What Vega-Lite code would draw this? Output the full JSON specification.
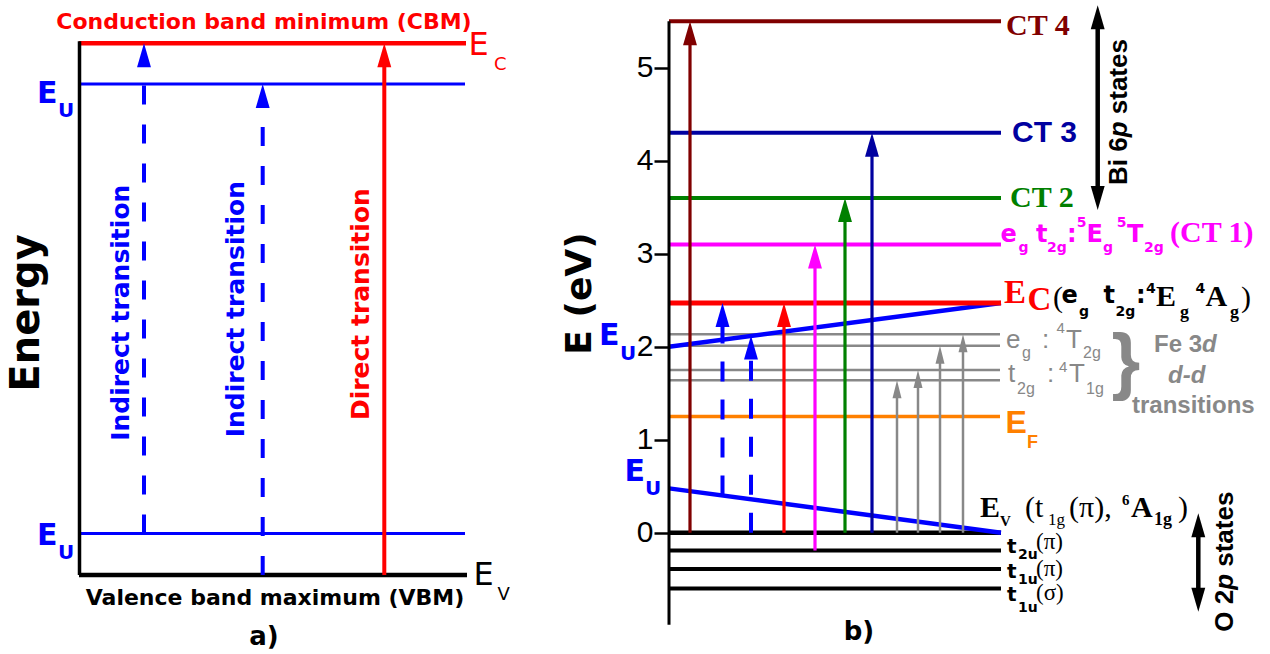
{
"$schema": "https://vega.github.io/schema/vega-lite/v6.json",
"width": 1270, "height": 654,
"autosize": {"type": "fit", "contains": "padding"},
"padding": 0,
"background": "white",
"config": {"view": {"stroke": null}},
"encoding": {
  "x": {"field": "x", "type": "quantitative", "scale": {"domain": [0, 1270], "nice": false, "zero": false}, "axis": null},
  "color": {"field": "c", "type": "nominal", "legend": null,
    "scale": {"domain": ["cbm", "eu", "ink", "ct4", "ct3", "ct2", "ct1", "dd", "ef"],
              "range": ["#ff0000", "#0000ff", "#000000", "#800000", "#0000a0", "#008000", "#ff00ff", "#888888", "#ff8000"]}}
},
"layer": [
{
  "encoding": {"y": {"field": "ea", "type": "quantitative", "scale": {"domain": [-0.743, 5.407], "nice": false, "zero": false}, "axis": null}},
  "layer": [
    {"data": {"values": [{"x": 79, "x2": 466, "ea": 5, "c": "cbm"}, {"x": 79, "x2": 467, "ea": 0, "c": "ink"}]},
     "mark": {"type": "rule", "strokeWidth": 4.5}, "encoding": {"x2": {"field": "x2"}}},
    {"data": {"values": [{"x": 79, "x2": 465, "ea": 4.617, "c": "eu"}, {"x": 79, "x2": 465, "ea": 0.39, "c": "eu"}]},
     "mark": {"type": "rule", "strokeWidth": 3}, "encoding": {"x2": {"field": "x2"}}},
    {"data": {"values": [{"x": 79.5, "ea": 0, "ea2": 5.02, "c": "ink"}]},
     "mark": {"type": "rule", "strokeWidth": 3.5}, "encoding": {"y2": {"field": "ea2"}}},
    {"data": {"values": [{"x": 384.3, "ea": 0, "ea2": 4.85, "c": "cbm"}]},
     "mark": {"type": "rule", "strokeWidth": 4}, "encoding": {"y2": {"field": "ea2"}}},
    {"data": {"values": [{"x": 144, "ea": 0.39, "ea2": 4.8, "c": "eu"}, {"x": 262.7, "ea": 0, "ea2": 4.45, "c": "eu"}]},
     "mark": {"type": "rule", "strokeWidth": 4, "strokeDash": [19, 20]}, "encoding": {"y2": {"field": "ea2"}}},
    {"data": {"values": [{"x": 144, "ea": 5, "c": "eu"}, {"x": 262.7, "ea": 4.617, "c": "eu"}, {"x": 384.3, "ea": 5, "c": "cbm"}]},
     "mark": {"type": "point", "shape": "M0,0L0.58,2L-0.58,2Z", "size": 576, "filled": true, "opacity": 1}},
    {"data": {"values": [{"x": 264, "ea": 5.132, "t": "Conduction band minimum (CBM)", "c": "cbm"}, {"x": 275, "ea": -0.282, "t": "Valence band maximum (VBM)", "c": "ink"}]},
     "mark": {"type": "text", "font": "DejaVu Sans", "fontWeight": "bold", "fontSize": 22, "align": "center", "baseline": "alphabetic"},
     "encoding": {"text": {"field": "t"}}},
    {"data": {"values": [{"x": 120.5, "ea": 2.466, "t": "Indirect transition", "c": "eu"}, {"x": 235.5, "ea": 2.5, "t": "Indirect transition", "c": "eu"}, {"x": 360.5, "ea": 2.547, "t": "Direct transition", "c": "cbm"}]},
     "mark": {"type": "text", "font": "DejaVu Sans", "fontWeight": "bold", "fontSize": 25, "angle": 270, "align": "center", "baseline": "middle"},
     "encoding": {"text": {"field": "t"}}},
    {"data": {"values": [{"x": 27, "ea": 2.464, "t": "Energy", "c": "ink"}]},
     "mark": {"type": "text", "font": "DejaVu Sans", "fontWeight": "bold", "fontSize": 40, "angle": 270, "align": "center", "baseline": "middle"},
     "encoding": {"text": {"field": "t"}}},
    {"data": {"values": [{"x": 264, "ea": -0.658, "t": "a)", "c": "ink"}]},
     "mark": {"type": "text", "font": "DejaVu Sans", "fontWeight": "bold", "fontSize": 26, "align": "center", "baseline": "alphabetic"},
     "encoding": {"text": {"field": "t"}}},
    {"data": {"values": [{"x": 468.5, "ea": 4.89, "t": "E", "c": "cbm"}, {"x": 473.5, "ea": -0.094, "t": "E", "c": "ink"}]},
     "mark": {"type": "text", "font": "DejaVu Sans", "fontSize": 32, "align": "left", "baseline": "alphabetic"},
     "encoding": {"text": {"field": "t"}}},
    {"data": {"values": [{"x": 494, "ea": 4.749, "t": "C", "c": "cbm"}, {"x": 497.5, "ea": -0.235, "t": "V", "c": "ink"}]},
     "mark": {"type": "text", "font": "DejaVu Sans", "fontSize": 18, "align": "left", "baseline": "alphabetic"},
     "encoding": {"text": {"field": "t"}}},
    {"data": {"values": [{"x": 37, "ea": 4.436, "t": "E", "c": "eu"}, {"x": 37, "ea": 0.282, "t": "E", "c": "eu"}]},
     "mark": {"type": "text", "font": "DejaVu Sans", "fontWeight": "bold", "fontSize": 30, "align": "left", "baseline": "alphabetic"},
     "encoding": {"text": {"field": "t"}}},
    {"data": {"values": [{"x": 58, "ea": 4.304, "t": "U", "c": "eu"}, {"x": 58, "ea": 0.148, "t": "U", "c": "eu"}]},
     "mark": {"type": "text", "font": "DejaVu Sans", "fontWeight": "bold", "fontSize": 20, "align": "left", "baseline": "alphabetic"},
     "encoding": {"text": {"field": "t"}}}
  ]
},
{
  "encoding": {"y": {"field": "ev", "type": "quantitative", "scale": {"domain": [-1.304, 5.728], "nice": false, "zero": false},
    "axis": {"orient": "left", "offset": -669, "values": [0, 1, 2, 3, 4, 5], "format": "d", "domain": false, "grid": false,
      "tickSize": 15, "tickWidth": 2.5, "tickColor": "#000000", "labelFont": "Liberation Sans", "labelFontSize": 30, "labelColor": "#000000",
      "labelPadding": 1, "labelFlush": false, "labelOverlap": false, "labelBound": false,
      "title": "E (eV)", "titleFont": "DejaVu Sans", "titleFontSize": 36, "titleFontWeight": "bold", "titleColor": "#000000",
      "titleAngle": 270, "titleX": -90, "titleY": 293, "titleAlign": "center", "titleBaseline": "middle"}}},
  "layer": [
    {"data": {"values": [{"x": 669, "x2": 1001, "ev": 5.5, "c": "ct4"}, {"x": 669, "x2": 1001, "ev": 4.3, "c": "ct3"}, {"x": 669, "x2": 1001, "ev": 3.6, "c": "ct2"}, {"x": 669, "x2": 1001, "ev": 3.1, "c": "ct1"},
                         {"x": 669, "x2": 1001, "ev": -0.19, "c": "ink"}, {"x": 669, "x2": 1001, "ev": -0.39, "c": "ink"}, {"x": 669, "x2": 1001, "ev": -0.6, "c": "ink"}]},
     "mark": {"type": "rule", "strokeWidth": 4}, "encoding": {"x2": {"field": "x2"}}},
    {"data": {"values": [{"x": 669, "x2": 1000, "ev": 2.135, "c": "dd"}, {"x": 669, "x2": 1000, "ev": 2.01, "c": "dd"}, {"x": 669, "x2": 1000, "ev": 1.75, "c": "dd"}, {"x": 669, "x2": 1000, "ev": 1.64, "c": "dd"}]},
     "mark": {"type": "rule", "strokeWidth": 2.5}, "encoding": {"x2": {"field": "x2"}}},
    {"data": {"values": [{"x": 669, "x2": 1000, "ev": 1.25, "c": "ef"}]},
     "mark": {"type": "rule", "strokeWidth": 3.5}, "encoding": {"x2": {"field": "x2"}}},
    {"data": {"values": [{"x": 669, "x2": 1001, "ev": 0, "c": "ink"}]},
     "mark": {"type": "rule", "strokeWidth": 4.5}, "encoding": {"x2": {"field": "x2"}}},
    {"data": {"values": [{"x": 669, "x2": 1001, "ev": 2.0, "ev2": 2.47, "c": "eu"}, {"x": 669, "x2": 1001, "ev": 0.477, "ev2": 0, "c": "eu"}]},
     "mark": {"type": "rule", "strokeWidth": 4.5}, "encoding": {"x2": {"field": "x2"}, "y2": {"field": "ev2"}}},
    {"data": {"values": [{"x": 669, "x2": 1001, "ev": 2.47, "c": "cbm"}]},
     "mark": {"type": "rule", "strokeWidth": 5}, "encoding": {"x2": {"field": "x2"}}},
    {"data": {"values": [{"x": 669, "ev": -0.99, "ev2": 5.5, "c": "ink"}]},
     "mark": {"type": "rule", "strokeWidth": 3}, "encoding": {"y2": {"field": "ev2"}}},
    {"data": {"values": [{"x": 690, "ev": 0, "ev2": 5.35, "c": "ct4"}, {"x": 784, "ev": 0, "ev2": 2.35, "c": "cbm"}, {"x": 815, "ev": -0.19, "ev2": 2.95, "c": "ct1"},
                         {"x": 845, "ev": 0, "ev2": 3.45, "c": "ct2"}, {"x": 872, "ev": 0, "ev2": 4.15, "c": "ct3"}]},
     "mark": {"type": "rule", "strokeWidth": 3.2}, "encoding": {"y2": {"field": "ev2"}}},
    {"data": {"values": [{"x": 722.5, "ev": 0.4, "ev2": 2.3, "c": "eu"}, {"x": 751, "ev": 0, "ev2": 1.95, "c": "eu"}]},
     "mark": {"type": "rule", "strokeWidth": 4, "strokeDash": [20, 18]}, "encoding": {"y2": {"field": "ev2"}}},
    {"data": {"values": [{"x": 897, "ev": 0, "ev2": 1.55, "c": "dd"}, {"x": 918, "ev": 0, "ev2": 1.66, "c": "dd"}, {"x": 940, "ev": 0, "ev2": 1.92, "c": "dd"}, {"x": 963, "ev": 0, "ev2": 2.04, "c": "dd"}]},
     "mark": {"type": "rule", "strokeWidth": 2.5}, "encoding": {"y2": {"field": "ev2"}}},
    {"data": {"values": [{"x": 1097.7, "ev": 3.6, "ev2": 5.55, "c": "ink"}, {"x": 1198.3, "ev": -0.7, "ev2": 0.1, "c": "ink"}]},
     "mark": {"type": "rule", "strokeWidth": 4.5}, "encoding": {"y2": {"field": "ev2"}}},
    {"data": {"values": [{"x": 690, "ev": 5.5, "c": "ct4"}, {"x": 722.5, "ev": 2.47, "c": "eu"}, {"x": 751, "ev": 2.12, "c": "eu"}, {"x": 784, "ev": 2.47, "c": "cbm"},
                         {"x": 815, "ev": 3.1, "c": "ct1"}, {"x": 845, "ev": 3.6, "c": "ct2"}, {"x": 872, "ev": 4.3, "c": "ct3"},
                         {"x": 1097.7, "ev": 5.672, "c": "ink"}, {"x": 1198.3, "ev": 0.209, "c": "ink"}]},
     "mark": {"type": "point", "shape": "M0,0L0.58,2L-0.58,2Z", "size": 576, "filled": true, "opacity": 1}},
    {"data": {"values": [{"x": 1097.7, "ev": 3.47, "c": "ink"}, {"x": 1198.3, "ev": -0.849, "c": "ink"}]},
     "mark": {"type": "point", "shape": "M0,0L0.58,-2L-0.58,-2Z", "size": 576, "filled": true, "opacity": 1}},
    {"data": {"values": [{"x": 897, "ev": 1.64, "c": "dd"}, {"x": 918, "ev": 1.75, "c": "dd"}, {"x": 940, "ev": 2.01, "c": "dd"}, {"x": 963, "ev": 2.135, "c": "dd"}]},
     "mark": {"type": "point", "shape": "M0,0L0.5,2L-0.5,2Z", "size": 324, "filled": true, "opacity": 1}},

    {"data": {"values": [{"x": 1006, "ev": 5.352, "t": "CT 4", "c": "ct4"}, {"x": 1010, "ev": 3.505, "t": "CT 2", "c": "ct2"}, {"x": 1170, "ev": 3.126, "t": "(CT 1)", "c": "ct1"},
                         {"x": 1156, "ev": 2.438, "t": "E", "c": "ink"}, {"x": 1205.5, "ev": 2.438, "t": "A", "c": "ink"},
                         {"x": 980, "ev": 0.172, "t": "E", "c": "ink"}, {"x": 1131, "ev": 0.172, "t": "A", "c": "ink"}]},
     "mark": {"type": "text", "font": "Liberation Serif", "fontWeight": "bold", "fontSize": 30, "align": "left", "baseline": "alphabetic"},
     "encoding": {"text": {"field": "t"}}},
    {"data": {"values": [{"x": 1012, "ev": 4.204, "t": "CT 3", "c": "ct3"}]},
     "mark": {"type": "text", "font": "Liberation Sans", "fontWeight": "bold", "fontSize": 30, "align": "left", "baseline": "alphabetic"},
     "encoding": {"text": {"field": "t"}}},
    {"data": {"values": [{"x": 1004, "ev": 2.47, "t": "E", "c": "cbm"}, {"x": 1027.5, "ev": 2.395, "t": "C", "c": "cbm"}]},
     "mark": {"type": "text", "font": "Liberation Serif", "fontWeight": "bold", "fontSize": 33, "align": "left", "baseline": "alphabetic"},
     "encoding": {"text": {"field": "t"}}},
    {"data": {"values": [{"x": 1000.5, "ev": 3.126, "t": "e", "c": "ct1"}, {"x": 1036, "ev": 3.126, "t": "t", "c": "ct1"}, {"x": 1067, "ev": 3.126, "t": ":", "c": "ct1"},
                         {"x": 1086.5, "ev": 3.126, "t": "E", "c": "ct1"}, {"x": 1127, "ev": 3.126, "t": "T", "c": "ct1"},
                         {"x": 1061.5, "ev": 2.47, "t": "e", "c": "ink"}, {"x": 1103.5, "ev": 2.47, "t": "t", "c": "ink"}, {"x": 1136, "ev": 2.47, "t": ":", "c": "ink"}]},
     "mark": {"type": "text", "font": "DejaVu Sans", "fontWeight": "bold", "fontSize": 24, "align": "left", "baseline": "alphabetic"},
     "encoding": {"text": {"field": "t"}}},
    {"data": {"values": [{"x": 1018.5, "ev": 3.016, "t": "g", "c": "ct1"}, {"x": 1047, "ev": 3.016, "t": "2g", "c": "ct1"}, {"x": 1103, "ev": 3.016, "t": "g", "c": "ct1"}, {"x": 1144, "ev": 3.016, "t": "2g", "c": "ct1"},
                         {"x": 1079, "ev": 2.33, "t": "g", "c": "ink"}, {"x": 1115.5, "ev": 2.33, "t": "2g", "c": "ink"}]},
     "mark": {"type": "text", "font": "DejaVu Sans", "fontWeight": "bold", "fontSize": 14, "align": "left", "baseline": "alphabetic"},
     "encoding": {"text": {"field": "t"}}},
    {"data": {"values": [{"x": 1076.8, "ev": 3.287, "t": "5", "c": "ct1"}, {"x": 1116.8, "ev": 3.287, "t": "5", "c": "ct1"}, {"x": 1146, "ev": 2.577, "t": "4", "c": "ink"}, {"x": 1195.5, "ev": 2.577, "t": "4", "c": "ink"}]},
     "mark": {"type": "text", "font": "DejaVu Sans", "fontWeight": "bold", "fontSize": 14, "align": "left", "baseline": "alphabetic"},
     "encoding": {"text": {"field": "t"}}},
    {"data": {"values": [{"x": 1180, "ev": 2.309, "t": "g", "c": "ink"}, {"x": 1230, "ev": 2.309, "t": "g", "c": "ink"}, {"x": 1154, "ev": 0.083, "t": "1g", "c": "ink"}]},
     "mark": {"type": "text", "font": "Liberation Serif", "fontWeight": "bold", "fontSize": 18, "align": "left", "baseline": "alphabetic"},
     "encoding": {"text": {"field": "t"}}},
    {"data": {"values": [{"x": 1000, "ev": 0.071, "t": "V", "c": "ink"}, {"x": 1122, "ev": 0.298, "t": "6", "c": "ink"}]},
     "mark": {"type": "text", "font": "Liberation Serif", "fontWeight": "bold", "fontSize": 15, "align": "left", "baseline": "alphabetic"},
     "encoding": {"text": {"field": "t"}}},
    {"data": {"values": [{"x": 1053, "ev": 2.427, "t": "(", "c": "ink"}, {"x": 1241, "ev": 2.427, "t": ")", "c": "ink"},
                         {"x": 1025, "ev": 0.172, "t": "(t", "c": "ink"}, {"x": 1069, "ev": 0.172, "t": "(π),", "c": "ink"}, {"x": 1178, "ev": 0.172, "t": ")", "c": "ink"}]},
     "mark": {"type": "text", "font": "Liberation Serif", "fontSize": 30, "align": "left", "baseline": "alphabetic"},
     "encoding": {"text": {"field": "t"}}},
    {"data": {"values": [{"x": 1048, "ev": 0.083, "t": "1g", "c": "ink"}]},
     "mark": {"type": "text", "font": "Liberation Serif", "fontSize": 17, "align": "left", "baseline": "alphabetic"},
     "encoding": {"text": {"field": "t"}}},
    {"data": {"values": [{"x": 1007, "ev": -0.218, "t": "t", "c": "ink"}, {"x": 1007, "ev": -0.487, "t": "t", "c": "ink"}, {"x": 1007, "ev": -0.734, "t": "t", "c": "ink"}]},
     "mark": {"type": "text", "font": "DejaVu Sans", "fontWeight": "bold", "fontSize": 20, "align": "left", "baseline": "alphabetic"},
     "encoding": {"text": {"field": "t"}}},
    {"data": {"values": [{"x": 1018, "ev": -0.283, "t": "2u", "c": "ink"}, {"x": 1018, "ev": -0.552, "t": "1u", "c": "ink"}, {"x": 1018, "ev": -0.853, "t": "1u", "c": "ink"}]},
     "mark": {"type": "text", "font": "DejaVu Sans", "fontWeight": "bold", "fontSize": 14, "align": "left", "baseline": "alphabetic"},
     "encoding": {"text": {"field": "t"}}},
    {"data": {"values": [{"x": 1036, "ev": -0.18, "t": "(π)", "c": "ink"}, {"x": 1036, "ev": -0.465, "t": "(π)", "c": "ink"}, {"x": 1036, "ev": -0.723, "t": "(σ)", "c": "ink"}]},
     "mark": {"type": "text", "font": "Liberation Serif", "fontSize": 23, "align": "left", "baseline": "alphabetic"},
     "encoding": {"text": {"field": "t"}}},
    {"data": {"values": [{"x": 1006, "ev": 1.99, "t": "e", "c": "dd"}, {"x": 1042, "ev": 1.99, "t": ":", "c": "dd"}, {"x": 1066, "ev": 1.99, "t": "T", "c": "dd"},
                         {"x": 1008, "ev": 1.62, "t": "t", "c": "dd"}, {"x": 1047, "ev": 1.62, "t": ":", "c": "dd"}, {"x": 1069, "ev": 1.62, "t": "T", "c": "dd"}]},
     "mark": {"type": "text", "font": "Liberation Sans", "fontSize": 26, "align": "left", "baseline": "alphabetic"},
     "encoding": {"text": {"field": "t"}}},
    {"data": {"values": [{"x": 1022, "ev": 1.878, "t": "g", "c": "dd"}, {"x": 1083, "ev": 1.878, "t": "2g", "c": "dd"}, {"x": 1017, "ev": 1.492, "t": "2g", "c": "dd"}, {"x": 1086, "ev": 1.492, "t": "1g", "c": "dd"}]},
     "mark": {"type": "text", "font": "Liberation Sans", "fontSize": 16, "align": "left", "baseline": "alphabetic"},
     "encoding": {"text": {"field": "t"}}},
    {"data": {"values": [{"x": 1056.5, "ev": 2.147, "t": "4", "c": "dd"}, {"x": 1059, "ev": 1.728, "t": "4", "c": "dd"}]},
     "mark": {"type": "text", "font": "Liberation Sans", "fontSize": 15, "align": "left", "baseline": "alphabetic"},
     "encoding": {"text": {"field": "t"}}},
    {"data": {"values": [{"x": 1111.5, "ev": 1.577, "t": "}", "c": "dd"}]},
     "mark": {"type": "text", "font": "Liberation Sans", "fontWeight": "bold", "fontSize": 74, "align": "left", "baseline": "alphabetic"},
     "encoding": {"text": {"field": "t"}}},
    {"data": {"values": [{"x": 1154, "ev": 1.946, "t": "Fe 3", "c": "dd"}, {"x": 1132, "ev": 1.287, "t": "transitions", "c": "dd"}]},
     "mark": {"type": "text", "font": "Liberation Sans", "fontWeight": "bold", "fontSize": 24, "align": "left", "baseline": "alphabetic"},
     "encoding": {"text": {"field": "t"}}},
    {"data": {"values": [{"x": 1202, "ev": 1.946, "t": "d", "c": "dd"}, {"x": 1168, "ev": 1.606, "t": "d-d", "c": "dd"}]},
     "mark": {"type": "text", "font": "Liberation Sans", "fontWeight": "bold", "fontStyle": "italic", "fontSize": 24, "align": "left", "baseline": "alphabetic"},
     "encoding": {"text": {"field": "t"}}},
    {"data": {"values": [{"x": 1005.5, "ev": 1.069, "t": "E", "c": "ef"}]},
     "mark": {"type": "text", "font": "Liberation Sans", "fontWeight": "bold", "fontSize": 32, "align": "left", "baseline": "alphabetic"},
     "encoding": {"text": {"field": "t"}}},
    {"data": {"values": [{"x": 1027, "ev": 0.911, "t": "F", "c": "ef"}]},
     "mark": {"type": "text", "font": "Liberation Sans", "fontWeight": "bold", "fontSize": 18, "align": "left", "baseline": "alphabetic"},
     "encoding": {"text": {"field": "t"}}},
    {"data": {"values": [{"x": 599, "ev": 2.018, "t": "E", "c": "eu"}, {"x": 624.5, "ev": 0.556, "t": "E", "c": "eu"}]},
     "mark": {"type": "text", "font": "DejaVu Sans", "fontWeight": "bold", "fontSize": 30, "align": "left", "baseline": "alphabetic"},
     "encoding": {"text": {"field": "t"}}},
    {"data": {"values": [{"x": 620, "ev": 1.857, "t": "U", "c": "eu"}, {"x": 645, "ev": 0.406, "t": "U", "c": "eu"}]},
     "mark": {"type": "text", "font": "DejaVu Sans", "fontWeight": "bold", "fontSize": 20, "align": "left", "baseline": "alphabetic"},
     "encoding": {"text": {"field": "t"}}},
    {"data": {"values": [{"x": 859, "ev": -1.154, "t": "b)", "c": "ink"}]},
     "mark": {"type": "text", "font": "DejaVu Sans", "fontWeight": "bold", "fontSize": 26, "align": "center", "baseline": "alphabetic"},
     "encoding": {"text": {"field": "t"}}},
    {"data": {"values": [{"x": 1127, "ev": 3.739, "t": "Bi 6", "c": "ink"}, {"x": 1127, "ev": 4.5, "t": "states", "c": "ink"},
                         {"x": 1233, "ev": -1.065, "t": "O 2", "c": "ink"}, {"x": 1233, "ev": -0.366, "t": "states", "c": "ink"}]},
     "mark": {"type": "text", "font": "Liberation Sans", "fontWeight": "bold", "fontSize": 26, "angle": 270, "align": "left", "baseline": "alphabetic"},
     "encoding": {"text": {"field": "t"}}},
    {"data": {"values": [{"x": 1127, "ev": 4.252, "t": "p", "c": "ink"}, {"x": 1233, "ev": -0.613, "t": "p", "c": "ink"}]},
     "mark": {"type": "text", "font": "Liberation Sans", "fontWeight": "bold", "fontStyle": "italic", "fontSize": 26, "angle": 270, "align": "left", "baseline": "alphabetic"},
     "encoding": {"text": {"field": "t"}}}
  ]
}
],
"resolve": {"scale": {"y": "independent"}}
}
